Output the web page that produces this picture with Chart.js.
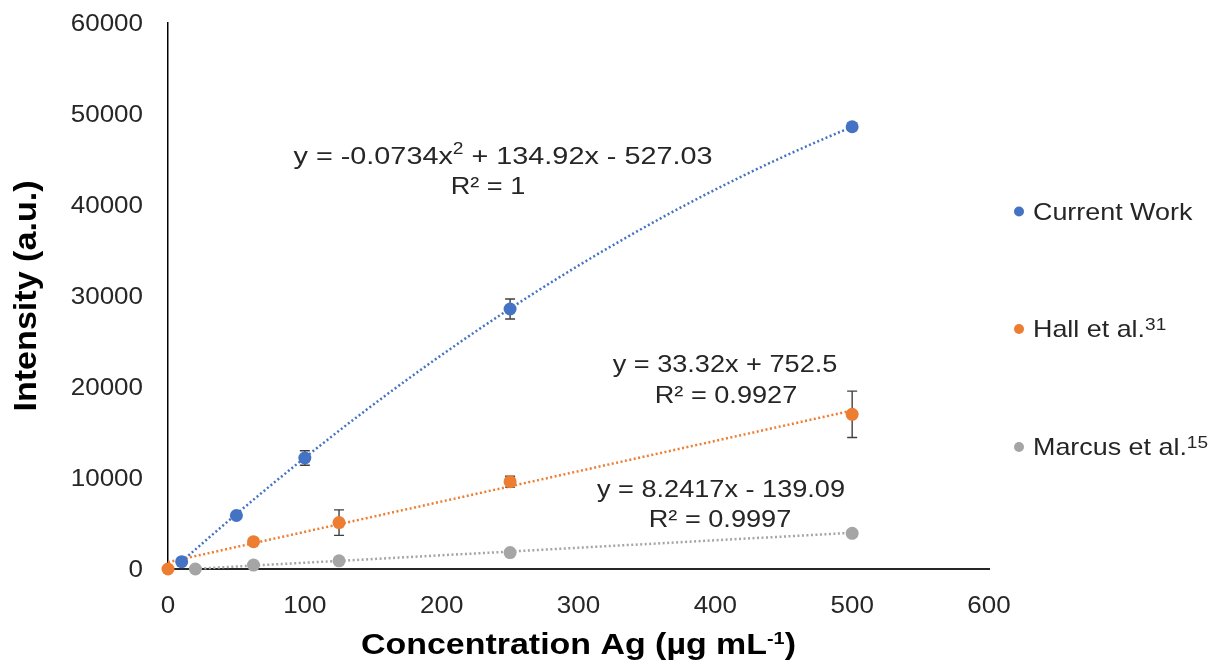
<!DOCTYPE html>
<html>
<head>
<meta charset="utf-8">
<title>Calibration curves – Ag</title>
<script src="https://cdn.jsdelivr.net/npm/chart.js@4.4.1/dist/chart.umd.min.js"></script>
<style>
  html, body { margin: 0; padding: 0; background: #fff; }
  #wrap { width: 1213px; height: 665px; }
</style>
</head>
<body>
<div id="wrap"><canvas id="calChart" width="1213" height="665"></canvas></div>
<script>
// axis ticks
const xTicks = [0, 100, 200, 300, 400, 500, 600];
const yTicks = [0, 10000, 20000, 30000, 40000, 50000, 60000];

// Current Work
const currentX = [10, 50, 100, 250, 500];
const currentY = [800, 5880, 12200, 28570, 48600];
const currentErr = [0, 0, 800, 1100, 400];

// Hall et al.
const hallX = [0, 62.5, 125, 250, 500];
const hallY = [0, 3000, 5100, 9600, 17000];
const hallErr = [0, 0, 1400, 600, 2550];

// Marcus et al.
const marcusX = [20, 62.5, 125, 250, 500];
const marcusY = [0, 430, 900, 1800, 3920];
const marcusErr = [0, 0, 0, 0, 300];

// trendline coefficients as printed on the chart (c0 + c1*x + c2*x^2)
const currentFit = [-527.03, 134.92, -0.0734];
const hallFit = [752.5, 33.32];
const marcusFit = [-139.09, 8.2417];

const seriesNames = ["Current Work", "Hall et al.", "Marcus et al."];
const seriesRefs = ["", "31", "15"];
const seriesColors = ["#4472C4", "#ED7D31", "#A5A5A5"];

const FONT = '"Liberation Sans", Arial, Helvetica, sans-serif';
const TEXT = "#262626";

const series = [
  { x: currentX, y: currentY, err: currentErr, fit: currentFit },
  { x: hallX, y: hallY, err: hallErr, fit: hallFit },
  { x: marcusX, y: marcusY, err: marcusErr, fit: marcusFit },
];

function polyAt(c, x) {
  return c.reduce((s, k, i) => s + k * Math.pow(x, i), 0);
}

/** Draw text made of normal / superscript pieces, stretched horizontally by sx. */
function drawRich(ctx, segs, x, y, o) {
  const size = o.size;
  const fontFor = (s) => (o.bold ? "bold " : "") + (s.sup ? Math.round(size * (o.supScale || 0.65)) : size) + "px " + FONT;
  ctx.save();
  let w = 0;
  segs.forEach((s) => { ctx.font = fontFor(s); w += ctx.measureText(s.t).width; });
  ctx.translate(x, y);
  if (o.rotate) ctx.rotate(o.rotate);
  ctx.scale(o.sx || 1, 1);
  ctx.fillStyle = o.color || TEXT;
  ctx.textAlign = "left";
  ctx.textBaseline = "alphabetic";
  let cx = o.align === "center" ? -w / 2 : o.align === "right" ? -w : 0;
  segs.forEach((s) => {
    ctx.font = fontFor(s);
    ctx.fillText(s.t, cx, s.sup ? -size * (o.supRise || 0.38) : 0);
    cx += ctx.measureText(s.t).width;
  });
  ctx.restore();
}

const decorPlugin = {
  id: "decor",
  beforeDatasetsDraw(chart) {
    const { ctx, scales: { x: xs, y: ys } } = chart;

    // dotted trendlines over each data range
    series.forEach((s, i) => {
      const x0 = Math.min(...s.x), x1 = Math.max(...s.x);
      const steps = s.fit.length > 2 ? 80 : 1;
      ctx.save();
      ctx.strokeStyle = seriesColors[i];
      ctx.lineWidth = 2.5;
      ctx.setLineDash([2, 2.5]);
      ctx.beginPath();
      for (let k = 0; k <= steps; k++) {
        const xv = x0 + (x1 - x0) * k / steps;
        const px = xs.getPixelForValue(xv), py = ys.getPixelForValue(polyAt(s.fit, xv));
        if (k === 0) ctx.moveTo(px, py); else ctx.lineTo(px, py);
      }
      ctx.stroke();
      ctx.restore();
    });

    // error bars
    ctx.save();
    ctx.strokeStyle = "#404040";
    ctx.lineWidth = 1.4;
    series.forEach((s) => {
      s.x.forEach((xv, j) => {
        const e = s.err[j];
        if (!e) return;
        const px = xs.getPixelForValue(xv);
        const top = ys.getPixelForValue(s.y[j] + e), bot = ys.getPixelForValue(s.y[j] - e);
        ctx.beginPath();
        ctx.moveTo(px, top); ctx.lineTo(px, bot);
        ctx.moveTo(px - 5, top); ctx.lineTo(px + 5, top);
        ctx.moveTo(px - 5, bot); ctx.lineTo(px + 5, bot);
        ctx.stroke();
      });
    });
    ctx.restore();
  },
  afterDraw(chart) {
    const { ctx, chartArea: ca, scales: { x: xs, y: ys } } = chart;

    // tick labels
    xs.ticks.forEach((t) => {
      drawRich(ctx, [{ t: String(t.value) }], xs.getPixelForValue(t.value), 613, { size: 23, sx: 1.13, align: "center" });
    });
    ys.ticks.forEach((t) => {
      drawRich(ctx, [{ t: String(t.value) }], 143, ys.getPixelForValue(t.value) + 8.3, { size: 23, sx: 1.13, align: "right" });
    });

    // axis titles
    drawRich(ctx, [{ t: "Concentration Ag (µg mL" }, { t: "-1", sup: true }, { t: ")" }],
      (ca.left + ca.right) / 2, 654, { size: 29, bold: true, sx: 1.17, align: "center", color: "#000", supScale: 0.6, supRise: 0.36 });
    drawRich(ctx, [{ t: "Intensity (a.u.)" }], 35.5, (ca.top + ca.bottom) / 2,
      { size: 31, bold: true, sx: 1.1, align: "center", color: "#000", rotate: -Math.PI / 2 });

    // trendline equations
    const eq = { size: 24, sx: 1.13, align: "center" };
    drawRich(ctx, [{ t: "y = -0.0734x" }, { t: "2", sup: true }, { t: " + 134.92x - 527.03" }], 503, 163.5, { size: 24, sx: 1.2, align: "center" });
    drawRich(ctx, [{ t: "R² = 1" }], 488, 194, eq);
    drawRich(ctx, [{ t: "y = 33.32x + 752.5" }], 725, 372, eq);
    drawRich(ctx, [{ t: "R² = 0.9927" }], 726, 403, eq);
    drawRich(ctx, [{ t: "y = 8.2417x - 139.09" }], 721, 497, eq);
    drawRich(ctx, [{ t: "R² = 0.9997" }], 720, 527, eq);

    // legend
    const legendY = [219.5, 337, 455];
    seriesNames.forEach((name, i) => {
      ctx.save();
      ctx.fillStyle = seriesColors[i];
      ctx.beginPath();
      ctx.arc(1019, legendY[i] - 8, 5, 0, Math.PI * 2);
      ctx.fill();
      ctx.restore();
      const segs = [{ t: name }];
      if (seriesRefs[i]) segs.push({ t: seriesRefs[i], sup: true });
      drawRich(ctx, segs, 1033, legendY[i], { size: 24, sx: 1.12, supScale: 0.7, supRise: 0.3 });
    });
  },
};

const canvas = document.getElementById("calChart");
const ctx = canvas.getContext("2d");

new Chart(ctx, {
  type: "scatter",
  data: {
    datasets: series.map((s, i) => ({
      label: seriesNames[i],
      data: s.x.map((xv, j) => ({ x: xv, y: s.y[j] })),
      showLine: false,
      pointRadius: 6.5,
      pointHoverRadius: 6.5,
      pointBorderWidth: 0,
      pointBackgroundColor: seriesColors[i],
      backgroundColor: seriesColors[i],
      clip: false,
      order: 3 - i,
    })),
  },
  options: {
    responsive: false,
    animation: false,
    events: [],
    layout: { padding: { left: 168, top: 23, right: 224, bottom: 96 } },
    plugins: { legend: { display: false }, tooltip: { enabled: false } },
    scales: {
      x: {
        type: "linear",
        min: xTicks[0],
        max: xTicks[xTicks.length - 1],
        afterBuildTicks: (sc) => { sc.ticks = xTicks.map((v) => ({ value: v })); },
        ticks: { display: false },
        grid: { display: false, drawTicks: false },
        border: { display: true, color: "#262626", width: 2 },
        afterFit: (sc) => { sc.height = 0; },
      },
      y: {
        type: "linear",
        min: yTicks[0],
        max: yTicks[yTicks.length - 1],
        afterBuildTicks: (sc) => { sc.ticks = yTicks.map((v) => ({ value: v })); },
        ticks: { display: false },
        grid: { display: false, drawTicks: false },
        border: { display: true, color: "#000", width: 1.5 },
        afterFit: (sc) => { sc.width = 0; },
      },
    },
  },
  plugins: [decorPlugin],
});
</script>
</body>
</html>
